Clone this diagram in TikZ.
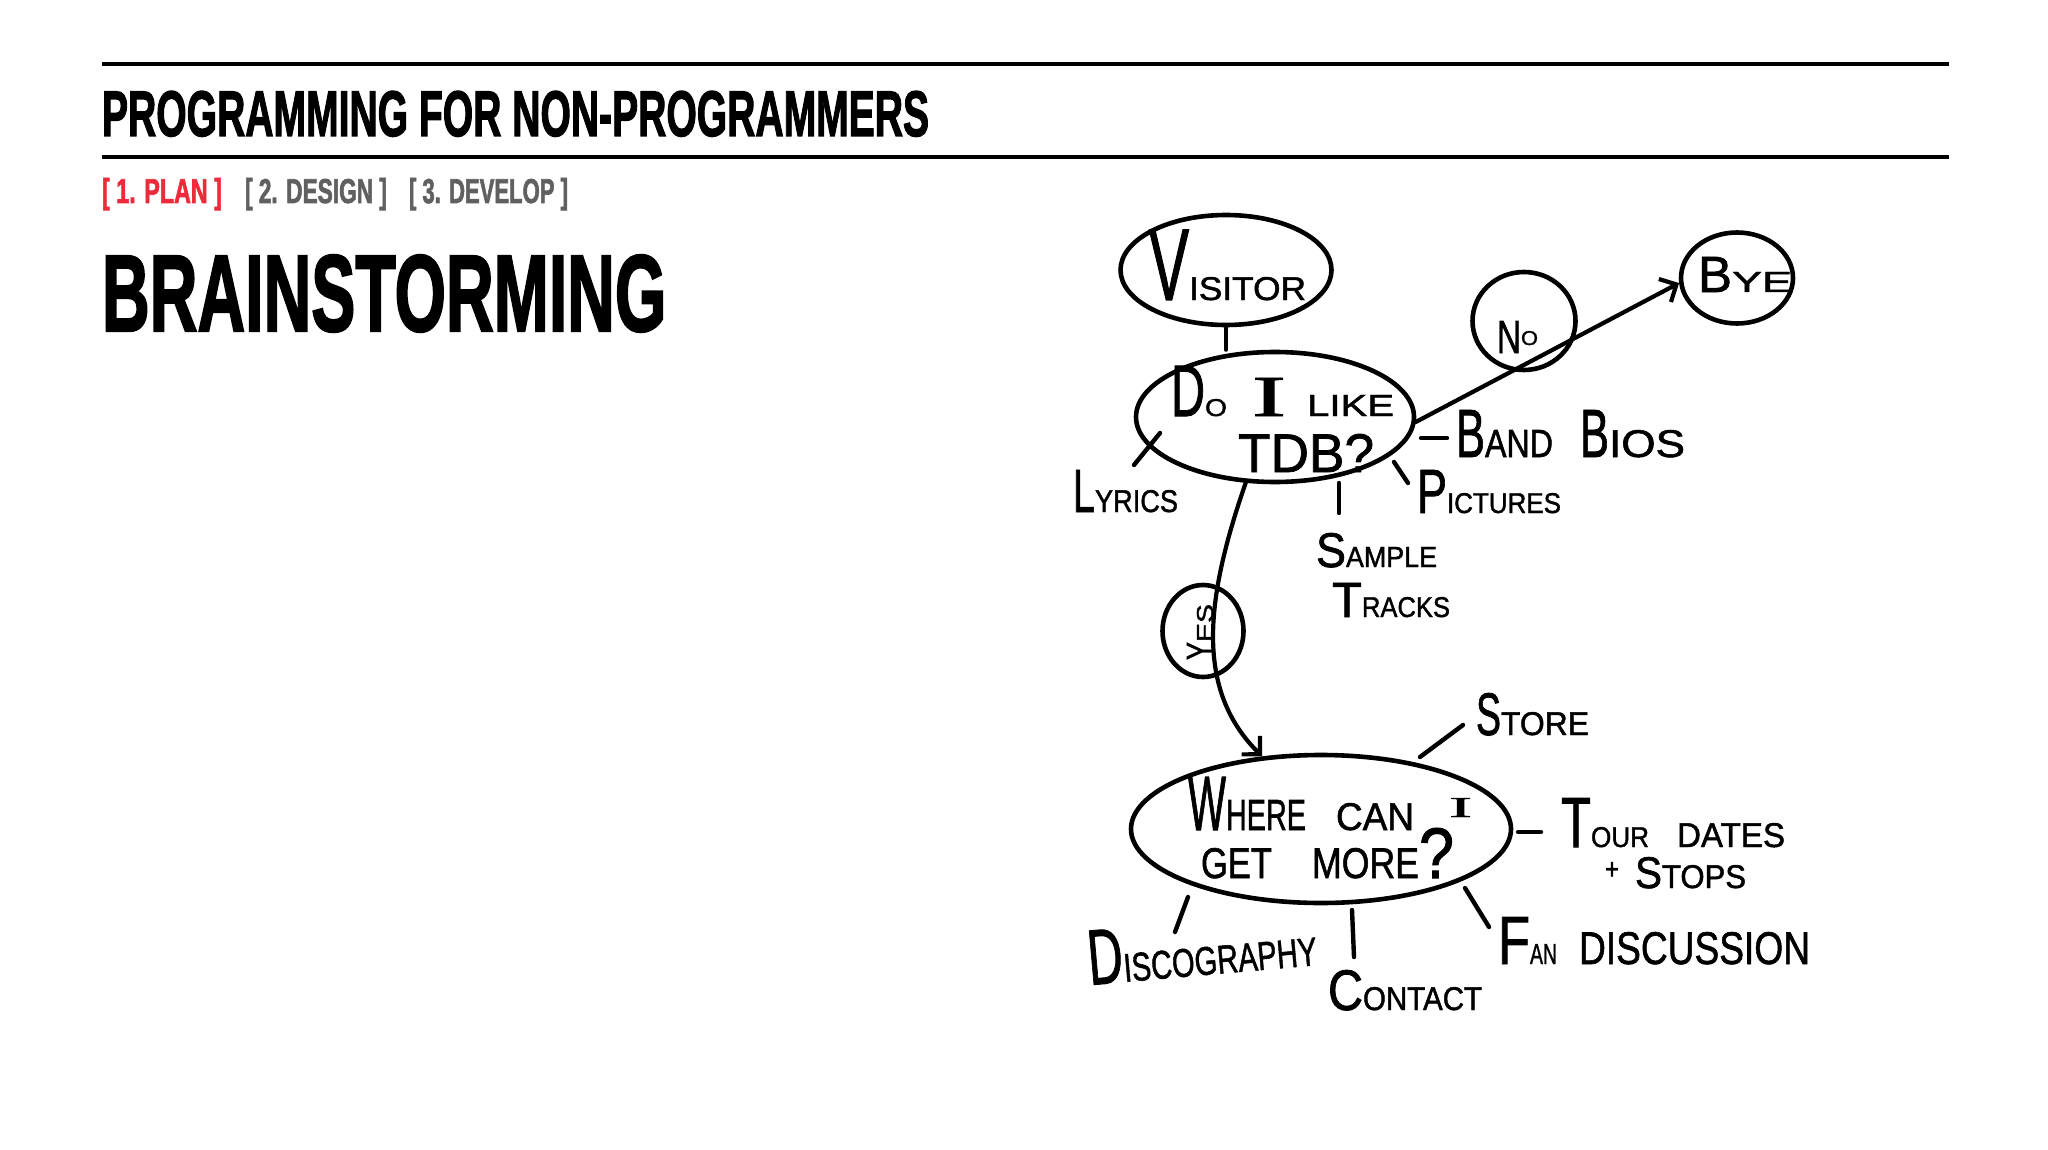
\documentclass[tikz,border=0pt]{standalone}
\usepackage{fontspec}
\setmainfont{Liberation Sans}
\newfontfamily\headfont[FakeBold=2.2]{Liberation Sans}
\newfontfamily\handfont[FakeBold=1.4]{Liberation Sans}
\newfontfamily\hserif[FakeBold=1.4]{Liberation Serif}
\usepackage{graphicx}
\usetikzlibrary{shapes.geometric,arrows.meta}
\definecolor{planred}{HTML}{EE2B3B}
\definecolor{navgray}{HTML}{606060}
\newcommand{\rb}[3]{\resizebox{#1pt}{#2pt}{#3}}
\begin{document}
\begin{tikzpicture}[x=1pt,y=-1pt,
  txt/.style={inner sep=0pt, outer sep=0pt, anchor=base west, font=\handfont},
  head/.style={inner sep=0pt, outer sep=0pt, anchor=base west, font=\headfont\bfseries},
  bubble/.style={ellipse, draw, line width=4.6pt, inner sep=0pt},
  tick/.style={line width=4.4pt, line cap=round},
  conn/.style={line width=4.2pt, line cap=round},
  barb/.style={-{Straight Barb[length=13pt,width=26pt,line width=4.2pt]}},
  rule/.style={line width=3.5pt}]
\fill[white] (0,0) rectangle (2048,1150);
\useasboundingbox (0,0) rectangle (2048,1150);

% header
\draw[rule] (102,64) -- (1949,64);
\draw[rule] (102,157) -- (1949,157);
\node[head] (title) at (102,136) {\rb{827}{45}{PROGRAMMING FOR NON-PROGRAMMERS}};
\node[head, text=planred] (plan) at (102,203) {\rb{120}{25}{[ 1. PLAN ]}};
\node[head, text=navgray] (design) at (245,203) {\rb{142}{25}{[ 2. DESIGN ]}};
\node[head, text=navgray] (develop) at (409,203) {\rb{159}{25}{[ 3. DEVELOP ]}};
\node[head] (brain) at (102,331) {\rb{564}{76}{BRAINSTORMING}};

% bubbles
\node[bubble, minimum width=211pt, minimum height=110pt] (visitor) at (1226,270) {};
\node[bubble, minimum width=278pt, minimum height=130pt] (tdb) at (1275,417) {};
\node[bubble, minimum width=103pt, minimum height=98pt] (no) at (1524,321) {};
\node[bubble, minimum width=112pt, minimum height=91pt] (bye) at (1737,278) {};
\node[bubble, minimum width=81pt, minimum height=92pt] (yes) at (1203,631) {};
\node[bubble, minimum width=380pt, minimum height=148pt] (where) at (1321,829) {};

% bubble texts
\node[txt] (visitortxt) at (1149,300) {\rb{40}{70}{V}\rb{117}{23}{ISITOR}};
\node[txt] (tdbtxt1) at (1171,416) {\rb{34}{50}{D}\rb{22}{17}{O}\hspace{25pt}\rb{34}{38}{\hserif I}\hspace{21pt}\rb{87}{21}{LIKE}};
\node[txt] (tdbtxt2) at (1238,472) {\rb{136}{38}{TDB?}};
\node[txt] (notxt) at (1497,353) {\rb{24}{32}{N}\raisebox{8pt}{\rb{17}{14}{O}}};
\node[txt] (byetxt) at (1698,292) {\rb{34}{35}{B}\rb{60}{20}{YE}};
\node[txt, anchor=center, rotate=90] (yestxt) at (1200,632) {\rb{18}{26}{Y}\rb{38}{16}{ES}};
\node[txt] (wheretxt1) at (1188,830) {\rb{38}{53}{W}\rb{80}{30}{HERE}\hspace{30pt}\rb{78}{27}{CAN}\hspace{35pt}\raisebox{13pt}{\rb{23}{19}{\hserif I}}};
\node[txt] (wheretxt2) at (1201,878) {\rb{71}{30}{GET}\hspace{40pt}\rb{107}{30}{MORE}\rb{35}{50}{?}};

% leaf labels
\node[txt] (lyrics) at (1073,512) {\rb{22}{42}{L}\rb{83}{22}{YRICS}};
\node[txt] (pictures) at (1417,513) {\rb{30}{43}{P}\rb{114}{20}{ICTURES}};
\node[txt] (sample) at (1316,567) {\rb{30}{34}{S}\rb{91}{20}{AMPLE}};
\node[txt] (tracks) at (1332,617) {\rb{30}{34}{T}\rb{88}{20}{RACKS}};
\node[txt] (bios) at (1456,457) {\rb{29}{47}{B}\rb{68}{27}{AND}\hspace{27pt}\rb{29}{47}{B}\rb{76}{27}{IOS}};
\node[txt] (store) at (1476,735) {\rb{25}{42}{S}\rb{88}{23}{TORE}};
\node[txt] (tour) at (1561,847) {\rb{30}{49}{T}\rb{58}{20}{OUR}\hspace{28pt}\rb{108}{24}{DATES}};
\node[txt] (stops) at (1605,888) {\raisebox{9pt}{\rb{14}{17}{+}}\hspace{16pt}\rb{27}{31}{S}\rb{84}{23}{TOPS}};
\node[txt] (fan) at (1498,964) {\rb{32}{47}{F}\rb{27}{20}{AN}\hspace{22pt}\rb{231}{32}{DISCUSSION}};
\node[txt] (contact) at (1328,1010) {\rb{35}{40}{C}\rb{119}{23}{ONTACT}};
\node[txt, rotate=5] (disco) at (1090,985) {\rb{35}{54}{D}\rb{194}{28}{ISCOGRAPHY}};

% connectors
\draw[conn] (visitor.south) -- (visitor.south |- tdb.north);
\draw[conn, barb] (tdb.-2) -- (bye.185);
\draw[conn, barb] (tdb.246) .. controls (1205,600) and (1195,690) .. (where.129);

% ticks
\coordinate (lyA) at (1160,433); \coordinate (lyB) at (1134,465);
\coordinate (piA) at (1394,462); \coordinate (piB) at (1408,483);
\coordinate (saA) at (1339,483); \coordinate (saB) at (1339,513);
\coordinate (biA) at (1421,438); \coordinate (biB) at (1447,438);
\coordinate (stA) at (1420,757); \coordinate (stB) at (1463,725);
\coordinate (toA) at (1518,832); \coordinate (toB) at (1541,832);
\coordinate (faA) at (1465,888); \coordinate (faB) at (1489,927);
\coordinate (coA) at (1352,910); \coordinate (coB) at (1354,957);
\coordinate (diA) at (1188,897); \coordinate (diB) at (1175,932);
\draw[tick] (lyA) -- (lyB);
\draw[tick] (piA) -- (piB);
\draw[tick] (saA) -- (saB);
\draw[tick] (biA) -- (biB);
\draw[tick] (stA) -- (stB);
\draw[tick] (toA) -- (toB);
\draw[tick] (faA) -- (faB);
\draw[tick] (coA) -- (coB);
\draw[tick] (diA) -- (diB);
\end{tikzpicture}
\end{document}
